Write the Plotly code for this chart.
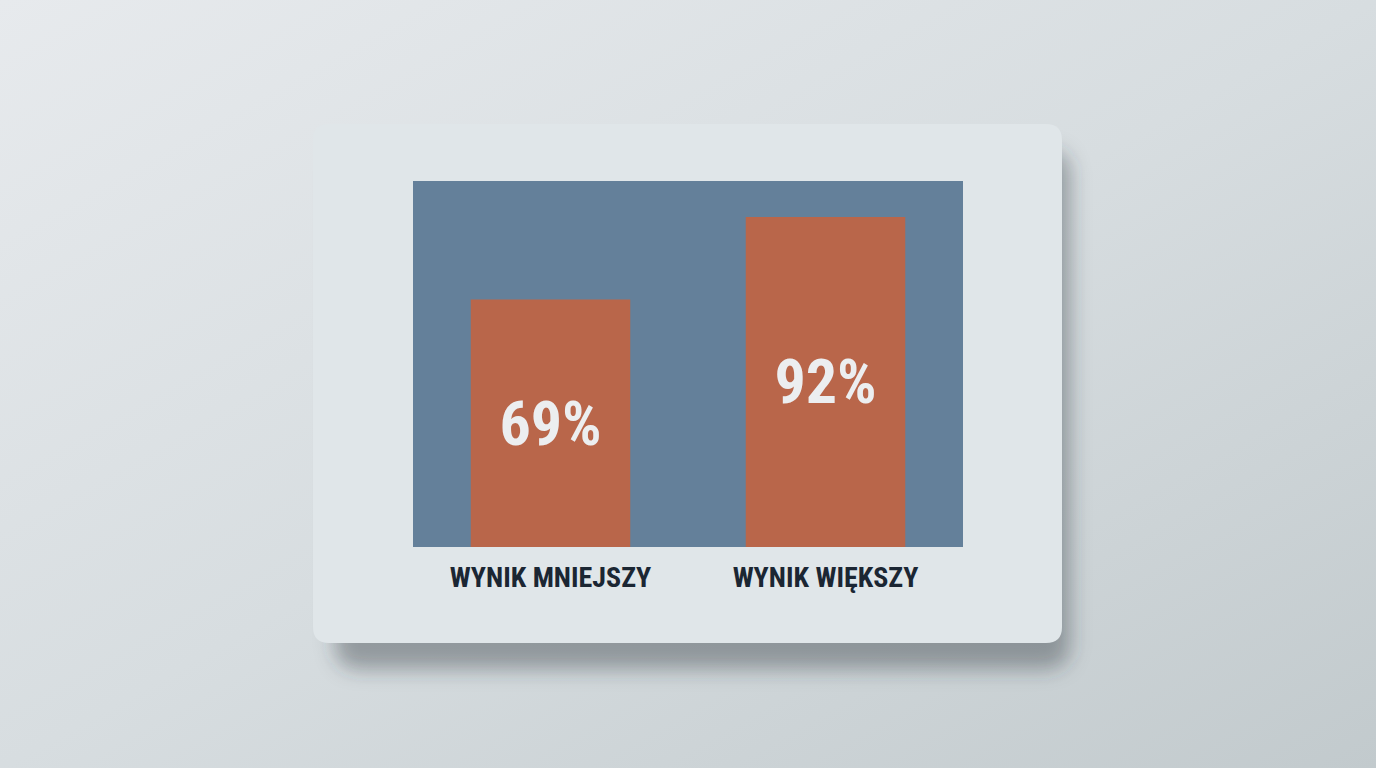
import base64
import plotly.graph_objects as go

categories = ["WYNIK MNIEJSZY", "WYNIK WIĘKSZY"]
values = [69, 92]
value_labels = ["69%", "92%"]

W, H = 1376, 768
L, R, T, B = 413, 963, 181, 547
pw, ph = R - L, B - T
CARD = (313, 124, 1062, 643)

def px_x(x):
    return (x - L) / pw

def px_y(y):
    return (B - y) / ph

def rounded(x0, y0, x1, y1, r):
    X0, X1 = px_x(x0), px_x(x1)
    Y0, Y1 = px_y(y1), px_y(y0)
    rx, ry = r / pw, r / ph
    return (f"M{X0+rx},{Y0} L{X1-rx},{Y0} Q{X1},{Y0} {X1},{Y0+ry} "
            f"L{X1},{Y1-ry} Q{X1},{Y1} {X1-rx},{Y1} L{X0+rx},{Y1} "
            f"Q{X0},{Y1} {X0},{Y1-ry} L{X0},{Y0+ry} Q{X0},{Y0} {X0+rx},{Y0} Z")

# background: diagonal gradient + soft blurred card shadow
svg = f"""<svg xmlns='http://www.w3.org/2000/svg' width='{W}' height='{H}' viewBox='0 0 {W} {H}'>
<defs>
<linearGradient id='g' x1='0' y1='0' x2='1' y2='1'>
<stop offset='0' stop-color='#e7eaed'/><stop offset='0.5' stop-color='#d7dde0'/><stop offset='1' stop-color='#c2cacd'/>
</linearGradient>
<filter id='b' x='-20%' y='-20%' width='140%' height='140%'><feGaussianBlur stdDeviation='10'/></filter>
</defs>
<rect width='{W}' height='{H}' fill='url(#g)'/>
<rect x='{CARD[0]+22}' y='{CARD[1]+26}' width='{CARD[2]-CARD[0]-14}' height='{CARD[3]-CARD[1]}' rx='22' fill='rgba(45,55,62,0.40)' filter='url(#b)'/>
</svg>"""
bg_uri = "data:image/svg+xml;base64," + base64.b64encode(svg.encode()).decode()

shapes = [
    dict(type="path", xref="paper", yref="paper", layer="below",
         path=rounded(*CARD, 16), fillcolor="#e0e6e9", line=dict(width=0)),
    dict(type="rect", xref="paper", yref="paper", layer="below",
         x0=0, x1=1, y0=0, y1=1, fillcolor="#64809a", line=dict(width=0)),
]

fig = go.Figure(go.Bar(
    x=categories, y=values, text=value_labels,
    textposition="inside", insidetextanchor="middle",
    textfont=dict(family="Liberation Sans Narrow, Roboto Condensed, Roboto", size=62,
                  color="#eceef0", weight="bold"),
    marker=dict(color="#b9664a", line=dict(width=0)),
    hoverinfo="skip",
))

fig.update_layout(
    width=W, height=H,
    margin=dict(l=L, r=W - R, t=T, b=H - B),
    paper_bgcolor="#d9dee1",
    plot_bgcolor="rgba(0,0,0,0)",
    bargap=0.42,
    showlegend=False,
    shapes=shapes,
    images=[dict(source=bg_uri, xref="paper", yref="paper",
                 x=-L / pw, y=1 + T / ph, sizex=W / pw, sizey=H / ph,
                 xanchor="left", yanchor="top", sizing="stretch", layer="below")],
    uniformtext=dict(minsize=10, mode="show"),
    xaxis=dict(showgrid=False, zeroline=False, showline=False, ticks="",
               tickfont=dict(family="Liberation Sans Narrow, Roboto Condensed, Roboto", size=28,
                             color="#1b2633", weight="bold"),
               ticklabelstandoff=11, fixedrange=True),
    yaxis=dict(range=[0, 102], visible=False, fixedrange=True),
)

fig.write_html("out.html", config={"displayModeBar": False},
               post_script="document.body.style.margin='0';document.body.style.overflow='hidden';")
